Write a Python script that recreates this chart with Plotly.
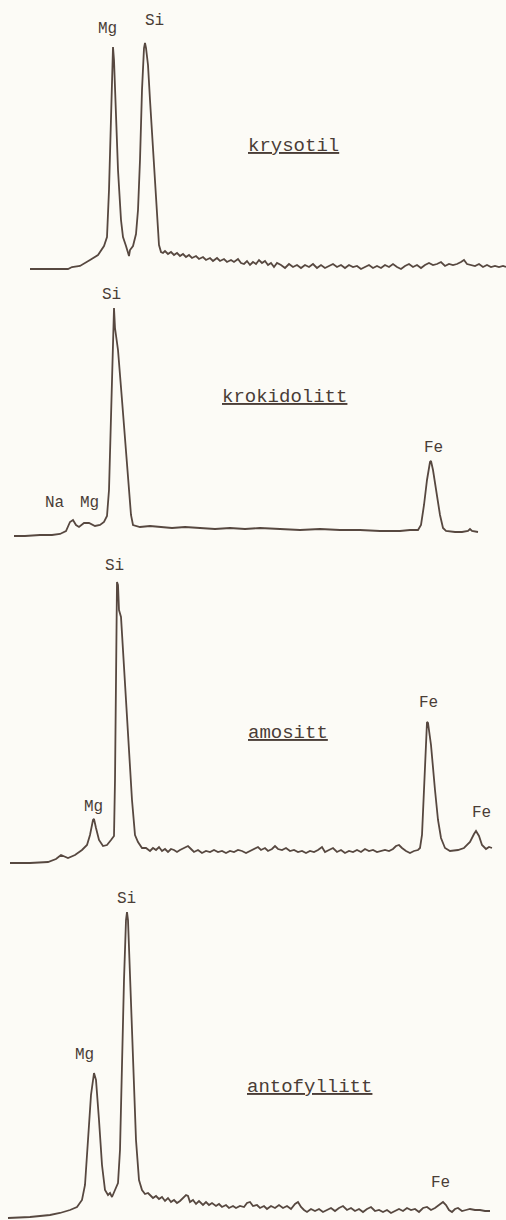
import plotly.graph_objects as go
from plotly.subplots import make_subplots

# ---------------- data (channel, relative intensity) ----------------
krysotil_x = [30, 50, 68, 72, 80, 90, 98, 104, 107, 109, 111, 113, 114, 116, 118, 121, 123, 126, 128, 129,
              130, 133, 136, 138, 140, 142, 144, 145, 146, 148, 150, 152, 155, 157, 159, 161, 163,
              165, 168, 171, 174, 177, 180, 183, 186, 189, 192, 196, 199, 203, 206, 210, 213, 217, 220,
              224, 227, 231, 234, 238, 241, 244, 247, 250, 253, 256, 259, 262, 265, 268, 271, 274, 277,
              281, 285, 289, 293, 297, 301, 305, 309, 313, 317, 321, 325, 329, 333, 337, 341, 345, 349,
              353, 357, 361, 365, 369, 373, 377, 381, 385, 389, 393, 397, 401, 405, 409, 413, 417, 421,
              425, 429, 433, 437, 441, 445, 449, 453, 457, 461, 464, 467, 471, 475, 479, 483, 487, 491,
              495, 499, 503, 506]
krysotil_y = [1, 1, 1, 3, 4, 10, 15, 24, 33, 80, 160, 223, 210, 150, 100, 50, 33, 24, 18, 14,
              20, 24, 36, 60, 110, 180, 222, 227, 222, 205, 170, 135, 90, 55, 25, 18, 17,
              19, 16, 18, 15, 17, 14, 16, 13, 15, 12, 14, 11, 13, 10, 12, 9, 12, 9,
              11, 8, 10, 8, 11, 7, 6, 9, 5, 8, 6, 10, 7, 9, 5, 7, 3, 7,
              5, 2, 6, 3, 5, 2, 5, 3, 6, 2, 5, 2, 4, 6, 3, 5, 2, 5,
              3, 4, 1, 3, 5, 2, 4, 2, 5, 3, 6, 3, 1, 4, 6, 3, 5, 2,
              5, 7, 5, 6, 8, 4, 6, 5, 6, 8, 10, 6, 5, 4, 6, 3, 5, 3,
              4, 3, 4, 3]

krokidolitt_x = [14, 25, 40, 52, 60, 66, 70, 73, 76, 79, 84, 89, 95, 100, 104, 107, 109, 111, 113, 114,
                 115, 118, 122, 126, 129, 131, 133, 140, 150, 160, 172, 185, 200, 215, 230, 245, 260,
                 280, 300, 320, 340, 360, 380, 400, 410, 418, 421, 424, 427, 430, 431, 433, 436, 440,
                 443, 446, 455, 462, 468, 470, 472, 478]
krokidolitt_y = [4, 4, 5, 5, 6, 9, 18, 20, 15, 13, 17, 17, 14, 15, 18, 24, 50, 120, 210, 232,
                 212, 190, 140, 90, 50, 25, 15, 13, 14, 13, 12, 13, 12, 11, 12, 11, 12,
                 11, 10, 11, 10, 10, 9, 9, 10, 10, 15, 35, 60, 78, 79, 70, 50, 25,
                 12, 9, 8, 8, 9, 11, 9, 8]

amositt_x = [10, 30, 48, 56, 61, 64, 68, 75, 82, 87, 90, 93, 94, 96, 99, 103, 107, 111, 114, 115,
             116, 117, 118, 119, 121, 124, 128, 132, 135, 138, 142, 146,
             150, 153, 156, 159, 162, 165, 168, 171, 174, 177, 180, 184, 188, 191, 194, 198, 202,
             206, 210, 214, 218, 222, 226, 230, 234, 238, 242, 246, 250, 254, 258, 261, 265, 268,
             272, 275, 278, 282, 286, 290, 294, 298, 302, 306, 310, 314, 318, 322, 325, 329, 333,
             337, 341, 345, 349, 353, 357, 361, 365, 369, 373, 377, 381, 385, 389, 393, 396, 399,
             402, 406, 410, 414, 418, 420, 422, 424, 426, 427, 428, 431, 435, 438, 441, 445, 450,
             458, 464, 470, 474, 476, 479, 482, 486, 489, 492]
amositt_y = [2, 2, 3, 6, 10, 9, 7, 10, 15, 20, 30, 45, 46, 37, 25, 19, 20, 25, 29, 85,
             215, 283, 280, 255, 248, 195, 125, 65, 30, 23, 17, 17,
             14, 17, 15, 18, 14, 16, 13, 16, 15, 13, 15, 17, 19, 16, 13, 15, 12,
             14, 13, 15, 13, 14, 12, 14, 13, 15, 14, 12, 14, 16, 18, 15, 17, 14,
             16, 19, 16, 15, 17, 14, 15, 13, 14, 12, 14, 13, 15, 18, 13, 15, 17,
             13, 15, 12, 14, 13, 15, 13, 16, 14, 15, 13, 14, 15, 14, 16, 19, 20,
             17, 14, 12, 14, 15, 17, 30, 75, 125, 143, 142, 120, 75, 45, 27, 17, 14,
             15, 17, 23, 31, 34, 29, 20, 16, 18, 17]

antofyllitt_x = [8, 30, 50, 60, 70, 77, 82, 85, 88, 91, 94, 96, 99, 102, 105, 108, 110, 112, 115, 118,
                 120, 122, 124, 126, 127, 128, 130, 133, 136, 139, 142, 145, 148,
                 150, 153, 156, 159, 162, 165, 168, 171, 174, 177, 180, 183, 186, 188, 190, 193, 196,
                 199, 203, 206, 209, 212, 216, 219, 222, 226, 229, 233, 236, 240, 244, 247, 250, 253,
                 257, 260, 264, 267, 271, 275, 279, 283, 287, 291, 295, 298, 301, 304, 307, 311, 315,
                 319, 323, 327, 331, 335, 339, 343, 347, 351, 355, 359, 363, 367, 371, 375, 379, 383,
                 387, 391, 395, 399, 403, 407, 411, 415, 419, 423, 427, 431, 435, 439, 443, 446, 449,
                 452, 455, 458, 462, 466, 470, 475, 480, 485, 490]
antofyllitt_y = [2, 3, 5, 7, 10, 13, 20, 35, 80, 125, 147, 140, 100, 55, 30, 25, 27, 23, 30, 37,
                 70, 160, 240, 300, 308, 300, 240, 160, 80, 40, 30, 26, 27,
                 25, 22, 24, 21, 23, 19, 22, 18, 20, 17, 19, 22, 25, 24, 18, 20, 16,
                 19, 15, 18, 15, 17, 14, 16, 13, 15, 12, 14, 12, 14, 13, 17, 18, 14,
                 15, 12, 14, 11, 14, 12, 15, 12, 14, 11, 16, 18, 13, 10, 8, 11, 9,
                 11, 8, 10, 12, 9, 12, 14, 10, 12, 9, 11, 8, 11, 13, 9, 10, 8,
                 10, 7, 9, 11, 9, 12, 10, 11, 8, 12, 13, 10, 12, 15, 18, 15, 10,
                 8, 11, 12, 9, 10, 11, 10, 10, 9, 9]

mineral_names = ["krysotil", "krokidolitt", "amositt", "antofyllitt"]
series_x = [krysotil_x, krokidolitt_x, amositt_x, antofyllitt_x]
series_y = [krysotil_y, krokidolitt_y, amositt_y, antofyllitt_y]

# element labels: (text, channel, intensity)
peak_labels = [
    [("Mg", 107, 241), ("Si", 154, 249)],
    [("Si", 111, 245), ("Na", 55, 37), ("Mg", 89, 37), ("Fe", 433, 92)],
    [("Si", 114, 299), ("Mg", 93, 58), ("Fe", 428, 162), ("Fe", 481, 52)],
    [("Si", 126, 321), ("Mg", 84, 165), ("Fe", 440, 37)],
]
# mineral name positions: (channel, intensity)
name_pos = [(293, 124), (284, 143), (288, 132), (309, 133)]

# ---------------- layout ----------------
W, H = 506, 1220
panel_px = [(0, 280, 270), (280, 550, 540), (550, 870, 865), (870, 1220, 1220)]  # top, bottom, baseline

INK = "#574840"
TEXT = "#4a3d37"
PAPER = "#fcfbf6"
FONT = "Liberation Mono, Courier New, monospace"

fig = make_subplots(rows=4, cols=1, vertical_spacing=0)

for i in range(4):
    fig.add_trace(go.Scatter(x=series_x[i], y=series_y[i], mode="lines",
                             line=dict(color=INK, width=1.8), hoverinfo="skip",
                             showlegend=False), row=i + 1, col=1)

for i, (top, bot, base) in enumerate(panel_px):
    ax = "" if i == 0 else str(i + 1)
    fig.layout["xaxis" + ax].update(range=[0, W], domain=[0, 1], visible=False, fixedrange=True)
    fig.layout["yaxis" + ax].update(range=[base - bot, base - top],
                                    domain=[1 - bot / H, 1 - top / H],
                                    visible=False, fixedrange=True)
    xr = "x" + ax
    yr = "y" + ax
    for (txt, cx, cy) in peak_labels[i]:
        fig.add_annotation(x=cx, y=cy, xref=xr, yref=yr, text=txt, showarrow=False,
                           font=dict(family=FONT, size=16, color=TEXT),
                           xanchor="center", yanchor="middle")
    nx, ny = name_pos[i]
    fig.add_annotation(x=nx, y=ny, xref=xr, yref=yr, text="<u>" + mineral_names[i] + "</u>",
                       showarrow=False, font=dict(family=FONT, size=19, color=TEXT),
                       xanchor="center", yanchor="middle")

fig.update_layout(width=W, height=H, margin=dict(l=0, r=0, t=0, b=0),
                  paper_bgcolor=PAPER, plot_bgcolor=PAPER, showlegend=False)

fig.write_html("out.html", config={"displayModeBar": False, "staticPlot": True},
               post_script="document.body.style.margin='0';"
                           "document.body.style.background='" + PAPER + "';")
